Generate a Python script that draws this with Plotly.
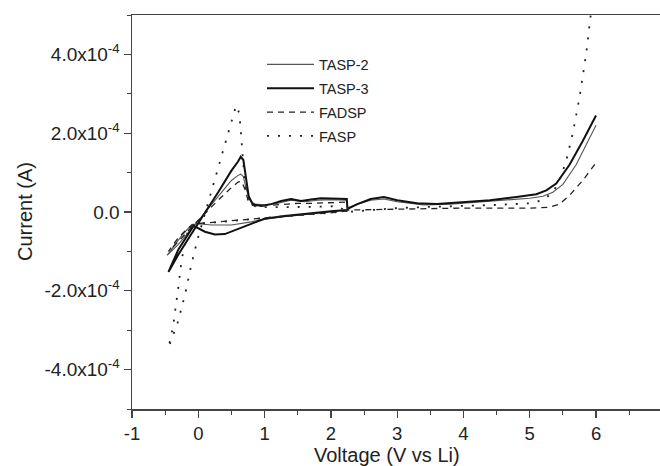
import numpy as np
import plotly.graph_objects as go

# Data (voltage in V, current in units of 1e-4 A)
tasp2_v = [2.25, 2.0, 1.6, 1.3, 1.0, 0.8, 0.5, 0.2, 0.0, -0.1, -0.25, -0.47, -0.3, -0.1, 0.1, 0.3, 0.5, 0.6, 0.64, 0.68, 0.72, 0.78, 0.85, 1.0, 1.2, 1.4, 1.6, 1.8, 2.0, 2.24, 2.25, 2.4, 2.6, 2.8, 3.0, 3.4, 3.8, 4.2, 4.6, 5.0, 5.2, 5.35, 5.5, 5.7, 6.0]
tasp2_i = [0.05, 0.0, -0.07, -0.12, -0.18, -0.25, -0.33, -0.33, -0.3, -0.32, -0.6, -1.1, -0.82, -0.42, -0.02, 0.4, 0.8, 0.93, 0.96, 0.9, 0.6, 0.3, 0.2, 0.18, 0.22, 0.3, 0.26, 0.3, 0.31, 0.3, 0.1, 0.2, 0.3, 0.33, 0.26, 0.18, 0.2, 0.25, 0.3, 0.35, 0.4, 0.5, 0.7, 1.2, 2.2]

tasp3_v = [2.25, 2.0, 1.6, 1.3, 1.0, 0.8, 0.6, 0.4, 0.25, 0.1, -0.07, -0.15, -0.3, -0.45, -0.3, -0.15, 0.0, 0.1, 0.3, 0.5, 0.6, 0.64, 0.68, 0.72, 0.76, 0.82, 0.95, 1.1, 1.25, 1.4, 1.55, 1.7, 1.85, 2.0, 2.24, 2.25, 2.4, 2.6, 2.8, 3.0, 3.3, 3.6, 4.0, 4.4, 4.8, 5.1, 5.25, 5.4, 5.6, 5.8, 6.0]
tasp3_i = [0.05, 0.02, -0.05, -0.1, -0.17, -0.3, -0.45, -0.56, -0.57, -0.5, -0.35, -0.55, -0.95, -1.52, -1.08, -0.68, -0.3, -0.02, 0.5, 1.05, 1.28, 1.4, 1.32, 0.85, 0.4, 0.2, 0.15, 0.2, 0.28, 0.33, 0.28, 0.32, 0.35, 0.34, 0.33, 0.08, 0.2, 0.33, 0.38, 0.3, 0.22, 0.2, 0.25, 0.3, 0.38, 0.45, 0.55, 0.72, 1.2, 1.8, 2.45]

fadsp_v = [2.25, 2.0, 1.5, 1.0, 0.6, 0.2, -0.05, -0.15, -0.3, -0.45, -0.3, -0.1, 0.1, 0.3, 0.5, 0.6, 0.65, 0.7, 0.75, 0.82, 0.9, 1.1, 1.3, 1.5, 1.7, 1.9, 2.1, 2.24, 2.26, 2.6, 3.0, 3.5, 4.0, 4.5, 5.0, 5.3, 5.45, 5.6, 5.8, 6.0]
fadsp_i = [0.03, -0.02, -0.08, -0.15, -0.22, -0.27, -0.3, -0.4, -0.65, -1.0, -0.75, -0.38, -0.03, 0.3, 0.62, 0.76, 0.78, 0.6, 0.3, 0.17, 0.15, 0.17, 0.2, 0.22, 0.22, 0.23, 0.25, 0.25, 0.05, 0.06, 0.08, 0.1, 0.1, 0.1, 0.1, 0.12, 0.2, 0.42, 0.8, 1.25]

fasp_v = [2.25, 2.0, 1.5, 1.0, 0.6, 0.2, 0.0, -0.15, -0.25, -0.3, -0.38, -0.45, -0.38, -0.31, -0.2, -0.1, 0.0, 0.1, 0.2, 0.3, 0.4, 0.5, 0.57, 0.62, 0.65, 0.68, 0.72, 0.78, 0.9, 1.1, 1.3, 1.5, 1.7, 1.9, 2.1, 2.25, 2.6, 3.0, 3.5, 4.0, 4.5, 5.0, 5.2, 5.35, 5.45, 5.55, 5.65, 5.75, 5.85, 5.92]
fasp_i = [0.03, -0.02, -0.08, -0.15, -0.22, -0.27, -0.3, -0.42, -1.2, -1.9, -2.9, -3.45, -3.1, -2.8, -2.1, -1.3, -0.63, -0.05, 0.5, 1.1, 1.7, 2.3, 2.7, 2.5, 1.8, 1.2, 0.5, 0.2, 0.12, 0.12, 0.13, 0.13, 0.13, 0.14, 0.15, 0.0, 0.05, 0.1, 0.13, 0.15, 0.18, 0.22, 0.3, 0.5, 0.8, 1.3, 2.0, 2.9, 4.0, 5.0]

x_tickvals = [-1, 0, 1, 2, 3, 4, 5, 6]
x_ticktext = ["-1", "0", "1", "2", "3", "4", "5", "6"]
y_tickvals = [-4e-4, -2e-4, 0.0, 2e-4, 4e-4]
y_ticktext = ["-4.0x10<sup>-4</sup>", "-2.0x10<sup>-4</sup>", "0.0", "2.0x10<sup>-4</sup>", "4.0x10<sup>-4</sup>"]
x_title = "Voltage (V vs Li)"
y_title = "Current (A)"

SCALE = 1e-4
FONT = "Arial, Liberation Sans, sans-serif"
FIG_W, FIG_H = 670, 466
L, R, T, B = 132, 0, 15, 57
PLOT_W = FIG_W - L - R
PLOT_H = FIG_H - T - B

fig = go.Figure()
fig.add_trace(go.Scatter(x=tasp2_v, y=np.array(tasp2_i) * SCALE, mode="lines", name="TASP-2",
                         legendgroup="a", line=dict(color="#555555", width=1.1)))
fig.add_trace(go.Scatter(x=tasp3_v, y=np.array(tasp3_i) * SCALE, mode="lines", name="TASP-3",
                         legendgroup="b", line=dict(color="#111111", width=2)))
fig.add_trace(go.Scatter(x=fadsp_v, y=np.array(fadsp_i) * SCALE, mode="lines", name="FADSP",
                         legendgroup="c", line=dict(color="#222222", width=1.3, dash="6px,5px")))
fig.add_trace(go.Scatter(x=fasp_v, y=np.array(fasp_i) * SCALE, mode="lines", name="FASP",
                         legendgroup="d", line=dict(color="#222222", width=1.8, dash="2px,9px")))

fig.update_layout(
    width=FIG_W, height=FIG_H,
    margin=dict(l=L, r=R, t=T, b=B),
    paper_bgcolor="white", plot_bgcolor="white",
    font=dict(family=FONT, size=19, color="#222222"),
    showlegend=True,
    hovermode=False,
    legend=dict(x=(262 - L) / PLOT_W, y=0.915, xanchor="left", yanchor="top",
                bgcolor="rgba(0,0,0,0)", font=dict(size=14.5), itemwidth=47,
                tracegroupgap=2),
    annotations=[
        dict(text=x_title, xref="paper", yref="paper", x=(387 - L) / PLOT_W,
             y=-(455 - (T + PLOT_H)) / PLOT_H, xanchor="center", yanchor="middle",
             showarrow=False, font=dict(size=20, family=FONT, color="#222222")),
        dict(text=y_title, xref="paper", yref="paper", x=-(L - 25) / PLOT_W,
             y=(T + PLOT_H - 212) / PLOT_H, xanchor="center", yanchor="middle", textangle=-90,
             showarrow=False, font=dict(size=20, family=FONT, color="#222222")),
    ],
)
fig.update_xaxes(
    range=[-1, 7.116], tickvals=x_tickvals, ticktext=x_ticktext, ticks="outside", ticklen=7, tickwidth=1.3,
    tickcolor="#444444", showline=True, linecolor="#444444", linewidth=1.5,
    mirror=True, showgrid=False, zeroline=False, automargin=False,
    minor=dict(dtick=0.5, tick0=-1, ticks="outside", ticklen=4, tickcolor="#444444", tickwidth=1),
    tickfont=dict(size=18.5),
)
fig.update_yaxes(
    range=[-5e-4, 5e-4], tickvals=y_tickvals, ticktext=y_ticktext, ticks="outside",
    ticklen=7, tickwidth=1.3, tickcolor="#444444", showline=True, linecolor="#444444",
    linewidth=1.5, showgrid=False, zeroline=False, automargin=False, mirror=False,
    minor=dict(dtick=1e-4, tick0=0, ticks="outside", ticklen=4, tickcolor="#444444", tickwidth=1),
    tickfont=dict(size=19),
)

fig.write_html("out.html", config={"displayModeBar": False, "staticPlot": True},
               post_script="document.body.style.margin='0px';document.body.style.overflow='hidden';")
